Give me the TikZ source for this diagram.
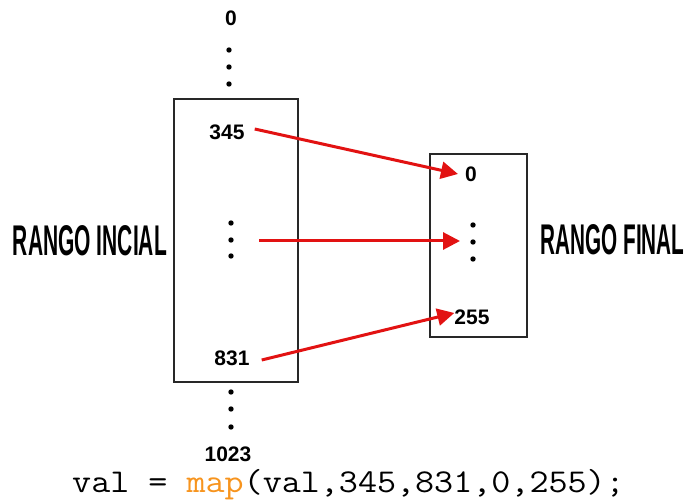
\documentclass[tikz,border=0pt]{standalone}
\usepackage{fontspec}
\setmainfont{Liberation Sans}
\usetikzlibrary{arrows.meta}
\definecolor{arrred}{RGB}{226,18,18}
\definecolor{codeorange}{RGB}{247,148,30}
\definecolor{boxline}{RGB}{40,40,40}
\tikzset{
  rangebox/.style={draw=boxline, line width=1.5pt},
  num/.style={inner sep=0pt, font=\fontsize{21}{23}\selectfont\bfseries},
  vdot/.style={fill=black, draw=none},
  maparrow/.style={draw=arrred, line width=3pt, -{Triangle[length=17pt,width=17pt]}},
  rangelabel/.style={inner sep=0pt},
}
\begin{document}
\begin{tikzpicture}[x=1pt,y=-1pt]
\useasboundingbox (0,0) rectangle (685,502);
% boxes
\draw[rangebox] (174,99) rectangle (298,382);
\draw[rangebox] (430,154) rectangle (527,337);
% labels
\node[rangelabel] (linicial) at (90,240.5) {\resizebox{154pt}{30pt}{\bfseries RANGO INCIAL}};
\node[rangelabel] (lfinal) at (612.5,240) {\resizebox{144pt}{30pt}{\bfseries RANGO FINAL}};
% numbers
\node[num] (ntop) at (231,18) {0};
\node[num] (n345) at (227,132) {345};
\node[num] (n831) at (232,358) {831};
\node[num] (nbot) at (228,454) {1023};
\node[num] (r0) at (471,174) {0};
\node[num] (r255) at (472,317) {255};
% dots
\foreach \yy in {50,67,84} \fill[vdot] (229,\yy) circle (2.7);
\foreach \yy in {223,240,256} \fill[vdot] (231,\yy) circle (2.7);
\foreach \yy in {225,242,259} \fill[vdot] (473,\yy) circle (2.7);
\foreach \yy in {392,409,427} \fill[vdot] (231,\yy) circle (2.7);
% middle arrow ends
\coordinate (lmid) at (259,241);
\coordinate (rmid) at (460,241);
% arrows
\draw[maparrow] ([xshift=10pt,yshift=3pt]n345.east) -- ([xshift=-7pt]r0.west);
\draw[maparrow] (lmid) -- (rmid);
\draw[maparrow] ([xshift=12pt,yshift=-2pt]n831.east) -- ([xshift=0pt,yshift=4pt]r255.west);
% code line
\node[anchor=base west, inner sep=0pt] (code) at (72,492)
  {\scalebox{1}[0.9]{\ttfamily\fontsize{37}{40}\selectfont val = \textcolor{codeorange}{map}(val,345,831,0,255);}};
\end{tikzpicture}
\end{document}
